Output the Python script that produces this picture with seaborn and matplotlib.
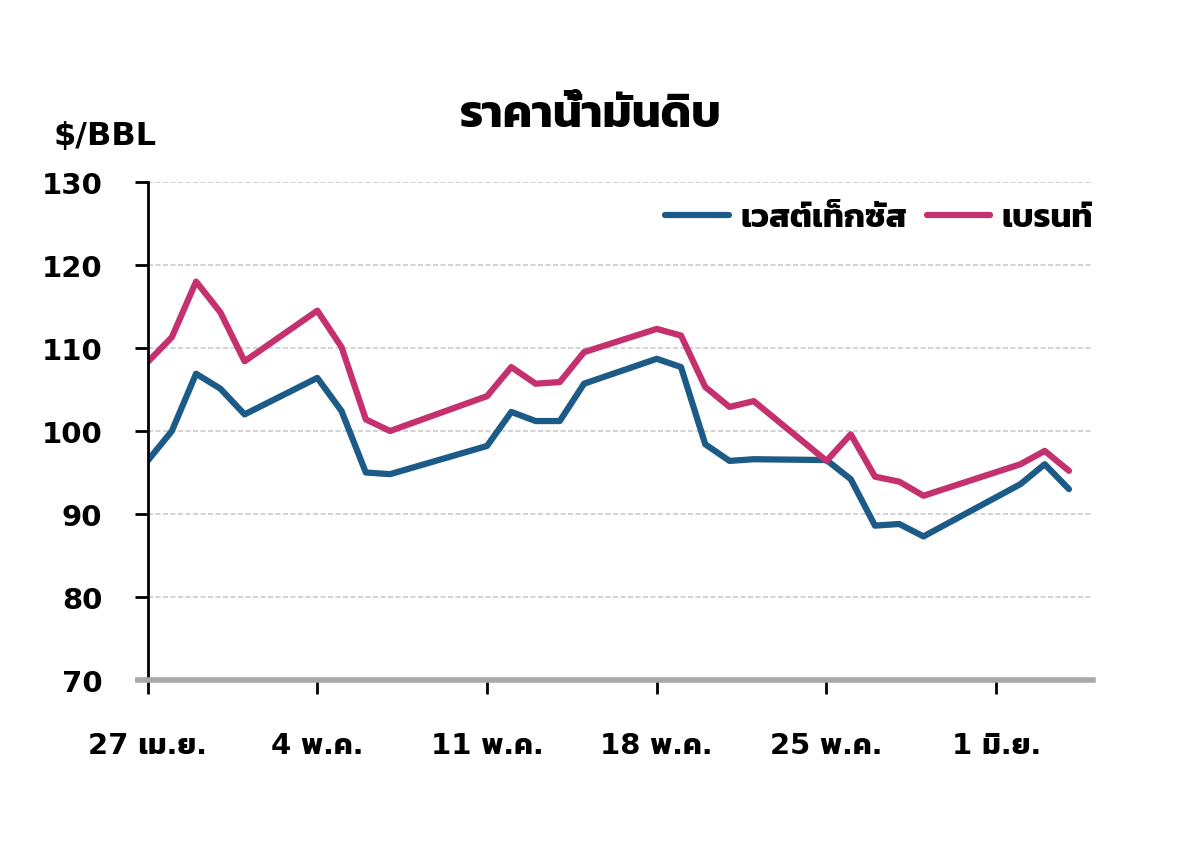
import matplotlib
matplotlib.use("Agg")
import matplotlib.pyplot as plt
import seaborn as sns
import pandas as pd

# days counted from 27 Apr (trading days only)
days = [0, 1, 2, 3, 4, 7, 8, 9, 10, 14, 15, 16, 17, 18, 21, 22, 23, 24, 25, 28, 29, 30, 31, 32, 36, 37, 38]
wti = [96.4, 100.0, 106.9, 105.1, 102.0, 106.4, 102.4, 95.0, 94.8, 98.2, 102.3, 101.2, 101.2, 105.7,
       108.7, 107.7, 98.4, 96.4, 96.6, 96.5, 94.2, 88.6, 88.8, 87.3, 93.6, 96.0, 93.0]
brent = [108.3, 111.3, 118.0, 114.3, 108.4, 114.5, 110.1, 101.4, 100.0, 104.2, 107.7, 105.7, 105.9, 109.5,
         112.3, 111.5, 105.3, 102.9, 103.6, 96.4, 99.6, 94.5, 93.9, 92.2, 96.0, 97.6, 95.2]

series_names = ["เวสต์เท็กซัส", "เบรนท์"]
colors = ["#1c5a87", "#c5306f"]

tick_days = [0, 7, 14, 21, 28, 35]
tick_labels = ["27 เม.ย.", "4 พ.ค.", "11 พ.ค.", "18 พ.ค.", "25 พ.ค.", "1 มิ.ย."]

df = pd.DataFrame({"day": days, series_names[0]: wti, series_names[1]: brent})
df = df.melt(id_vars="day", var_name="series", value_name="price")

sns.set_style("ticks")
plt.rcParams["font.family"] = ["DejaVu Sans", "Kanit"]
plt.rcParams["font.weight"] = "bold"
plt.rcParams["text.color"] = "black"
plt.rcParams["xtick.color"] = "black"
plt.rcParams["ytick.color"] = "black"

fig = plt.figure(figsize=(12, 8.53), dpi=100)
ax = fig.add_axes([0.123, 0.2016, 0.788, 0.5839])

sns.lineplot(
    data=df,
    x="day",
    y="price",
    hue="series",
    palette=colors,
    linewidth=4.5,
    ax=ax
)

ax.set_xlim(0, 39)
ax.set_ylim(70, 130)
ax.set_yticks(range(70, 131, 10))
ax.set_xticks(tick_days)
ax.set_xticklabels(tick_labels)
ax.set_xlabel("")
ax.set_ylabel("")

# dashed gridlines except at the bottom
for v in range(80, 131, 10):
    ax.axhline(v, color="#cccccc", linestyle=(0, (3, 1.5)), linewidth=1.2, zorder=0)

ax.spines["top"].set_visible(False)
ax.spines["right"].set_visible(False)
ax.spines["left"].set_color("black")
ax.spines["left"].set_linewidth(2)
ax.spines["bottom"].set_color("#a8a8a8")
ax.spines["bottom"].set_linewidth(4)

ax.tick_params(axis="y", direction="out", length=9.5, width=2, color="black",
               labelsize=21, pad=23)
ax.tick_params(axis="x", direction="out", length=10, width=2, color="black",
               labelsize=21, pad=27)

# bottom y tick continues the grey x axis line
first = ax.yaxis.get_major_ticks()[0].tick1line
first.set_markeredgecolor("#a8a8a8")
first.set_markeredgewidth(4)

ax.legend(
    loc="center right",
    bbox_to_anchor=(1.0, 0.93),
    ncol=2,
    frameon=False,
    fontsize=24,
    handlelength=1.9,
    columnspacing=0.6,
    handletextpad=0.35,
    borderaxespad=0,
    borderpad=0
)

fig.text(0.492, 0.866, "ราคาน้ำมันดิบ", ha="center", va="center", fontsize=33, fontweight="bold")
fig.text(0.045, 0.84, "$/BBL", ha="left", va="center", fontsize=23, fontweight="bold")

fig.savefig("out.png", dpi=100)
